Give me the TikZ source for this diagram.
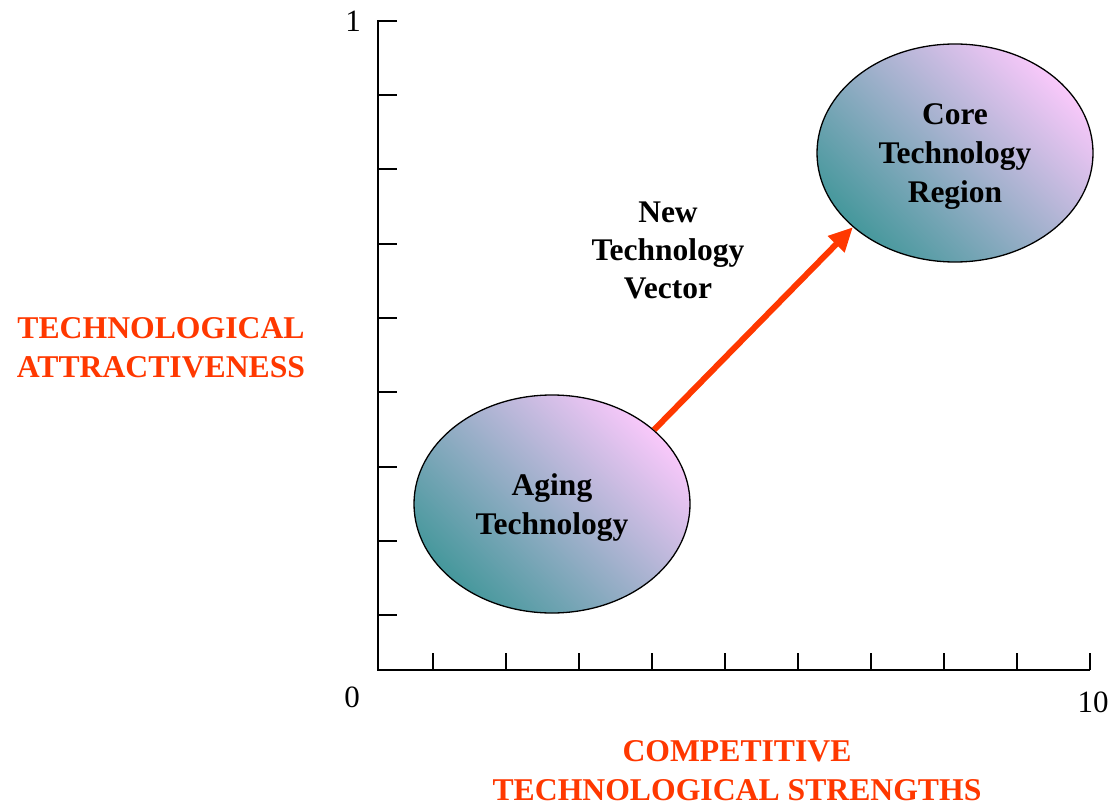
\documentclass[tikz,border=0pt]{standalone}
\usepackage{fontspec}
\setmainfont{Liberation Serif}
\usetikzlibrary{shapes.geometric,arrows.meta}
\definecolor{labelred}{RGB}{255,56,0}
\definecolor{blobteal}{RGB}{70,152,156}
\definecolor{blobpink}{RGB}{248,200,250}
\begin{document}
\begin{tikzpicture}[x=1pt,y=-1pt,
  axisline/.style={line width=2pt, black, line join=miter},
  tickline/.style={line width=2pt, black},
  blob/.style={ellipse, draw=black, line width=1.3pt, minimum width=276pt,
    minimum height=218pt, inner sep=0pt, bottom color=blobteal,
    top color=blobpink, shading angle=-45, align=center, text depth=0pt,
    font=\bfseries\fontsize{31.5}{39}\selectfont},
  bodytext/.style={align=center, inner sep=0pt, text depth=0pt,
    font=\bfseries\fontsize{31.5}{38}\selectfont},
  redlabel/.style={align=center, inner sep=0pt, text depth=0pt, text=labelred,
    font=\bfseries\fontsize{31.7}{39}\selectfont},
  numlabel/.style={inner sep=0pt, anchor=base, font=\fontsize{31}{37}\selectfont},
  vecarrow/.style={line width=6pt, draw=labelred,
    -{Triangle[length=24pt,width=22pt]}}
]
\useasboundingbox (0,0) rectangle (1113,805);

% axes
\coordinate (ytop) at (378,21);
\coordinate (orig) at (378,670);
\coordinate (xend) at (1090,670);
\draw[axisline] ([xshift=19pt]ytop) -- (ytop) -- (orig) -- (xend);
\foreach \yy in {95.25,169.5,243.75,318,392.25,466.5,540.75,615}
  \draw[tickline] (378,\yy) -- (397,\yy);
\foreach \xx in {433,506,579,652,725,798,871,944,1017,1090}
  \draw[tickline] (\xx,670) -- (\xx,653);

% axis numbers
\node[numlabel] (n1) at (353,32) {1};
\node[numlabel] (n0) at (352,707) {0};
\node[numlabel] (n10) at (1093,712) {10};

% axis titles
\node[redlabel] (ytitle) at (161,348) {TECHNOLOGICAL\\ATTRACTIVENESS};
\node[redlabel] (xtitle) at (737,770) {COMPETITIVE\\TECHNOLOGICAL STRENGTHS};

% regions
\node[blob] (aging) at (552,504) {Aging\\Technology};
\node[blob] (core) at (955,153) {Core\\Technology\\Region};

% vector
\draw[vecarrow] (aging.36) -- (core.216);
\node[bodytext] (vec) at (668,250) {New\\Technology\\Vector};
\end{tikzpicture}
\end{document}
